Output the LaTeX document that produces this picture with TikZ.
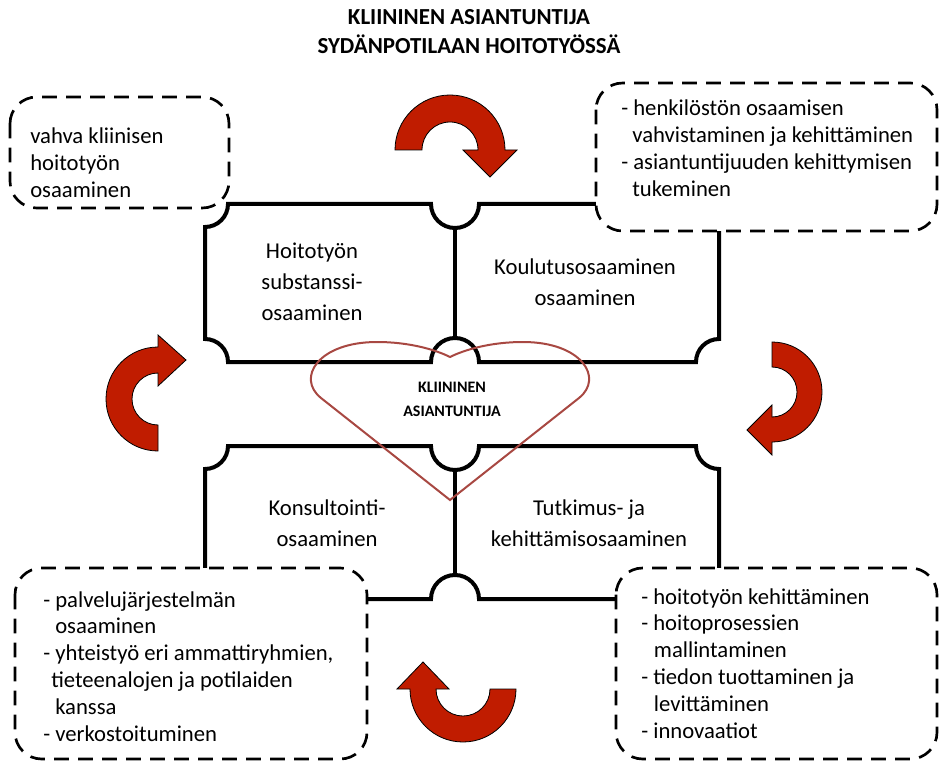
\documentclass[tikz,border=0pt]{standalone}
\usepackage{fontspec}
\setmainfont{Carlito}
\definecolor{arrowred}{RGB}{192,28,0}
\definecolor{heartline}{RGB}{168,72,66}
\newcommand\stack[2]{\begin{tabular}[t]{@{}#1@{}}#2\end{tabular}}
\begin{document}
\begin{tikzpicture}[x=0.75pt,y=-0.75pt,
  frame/.style={line width=3pt, line join=miter},
  note/.style={draw, line width=2pt, dash pattern=on 11pt off 7pt, rounded corners=20pt, fill=white},
  bendarrow/.style={fill=arrowred, draw=black, line width=0.6pt, line join=miter},
  heart/.style={draw=heartline, line width=1.5pt},
  body/.style={inner sep=0pt, anchor=base west, font=\fontsize{17}{20.1}\selectfont},
  field/.style={inner sep=0pt, anchor=base, font=\fontsize{17}{23.25}\selectfont},
  headline/.style={inner sep=0pt, anchor=base, font=\fontsize{17.2}{21.75}\selectfont\bfseries},
  core/.style={inner sep=0pt, anchor=base, font=\fontsize{12}{18}\selectfont\bfseries}]
\useasboundingbox (0,0) rectangle (939,763);

% upper pair of competence fields
\draw[frame] (228,204) -- (431,204) arc[start angle=180,end angle=0,radius=24]
  -- (696,204) arc[start angle=180,end angle=90,radius=23]
  -- (719,339) arc[start angle=-90,end angle=-180,radius=23]
  -- (479,362) arc[start angle=0,end angle=-180,radius=24]
  -- (228,362) arc[start angle=0,end angle=-90,radius=23]
  -- (205,227) arc[start angle=90,end angle=0,radius=23] -- cycle;
\draw[frame] (455,228) -- (455,338);

% lower pair of competence fields
\draw[frame] (228,446) -- (431,446) arc[start angle=180,end angle=0,radius=24]
  -- (696,446) arc[start angle=180,end angle=90,radius=23]
  -- (719,576) arc[start angle=-90,end angle=-180,radius=23]
  -- (479,599) arc[start angle=0,end angle=-180,radius=24]
  -- (228,599) arc[start angle=0,end angle=-90,radius=23]
  -- (205,469) arc[start angle=90,end angle=0,radius=23] -- cycle;
\draw[frame] (455,470) -- (455,575);

% dashed note boxes
\draw[note] (10,97) rectangle (229,208);
\draw[note] (596,83) rectangle (937,231);
\draw[note] (15,568) rectangle (367,759);
\draw[note] (616,568) rectangle (937,759);

% heart in the middle
\draw[heart] (450,500) -- (321,398)
  .. controls (296,378) and (318,342) .. (377,342)
  .. controls (410,342) and (436,350) .. (450,357)
  .. controls (464,350) and (490,342) .. (523,342)
  .. controls (582,342) and (604,378) .. (579,398) -- cycle;

% circular arrows
\draw[bendarrow] (395,150) arc[start angle=180,end angle=360,radius=55]
  -- (517,150) -- (490,177) -- (463,150) -- (478,150)
  arc[start angle=360,end angle=180,radius=28] -- cycle;
\draw[bendarrow] (772,342) arc[start angle=-90,end angle=90,radius=50]
  -- (772,455) -- (747,430) -- (772,405) -- (772,417)
  arc[start angle=90,end angle=-90,radius=25] -- cycle;
\draw[bendarrow] (158,451) arc[start angle=90,end angle=270,radius=52]
  -- (158,335) -- (186,360) -- (158,386) -- (158,373)
  arc[start angle=270,end angle=90,radius=26] -- cycle;
\draw[bendarrow] (516,689) arc[start angle=0,end angle=180,radius=53]
  -- (397,689) -- (423,662) -- (449,689) -- (436,689)
  arc[start angle=180,end angle=0,radius=27] -- cycle;

% texts
\node[headline] (title) at (469,25) {\stack{c}{KLIININEN ASIANTUNTIJA\\SYDÄNPOTILAAN HOITOTYÖSSÄ}};
\node[core] (centre) at (452,392) {\stack{c}{KLIININEN\\ASIANTUNTIJA}};

\node[field] (subst) at (312,258) {\stack{c}{Hoitotyön\\substanssi-\\osaaminen}};
\node[field] (koul) at (585,274) {\stack{c}{Koulutusosaaminen\\osaaminen}};
\node[field] (kons) at (327,515) {\stack{c}{Konsultointi-\\osaaminen}};
\node[field] (tutk) at (589,515) {\stack{c}{Tutkimus- ja\\kehittämisosaaminen}};

\node[body] (clin) at (30,144) {\stack{l}{vahva kliinisen\\hoitotyön\\osaaminen}};
\node[body] (staff) at (621,116) {\stack{l}{- henkilöstön osaamisen\\\hspace*{8.3pt}vahvistaminen ja kehittäminen\\- asiantuntijuuden kehittymisen\\\hspace*{8.3pt}tukeminen}};
\node[body] (serv) at (43,607) {\stack{l}{- palvelujärjestelmän\\\hspace*{9pt}osaaminen\\- yhteistyö eri ammattiryhmien,\\\hspace*{6pt}tieteenalojen ja potilaiden\\\hspace*{9pt}kanssa\\- verkostoituminen}};
\node[body] (dev) at (641,604) {\stack{l}{- hoitotyön kehittäminen\\- hoitoprosessien\\\hspace*{9.5pt}mallintaminen\\- tiedon tuottaminen ja\\\hspace*{9.5pt}levittäminen\\- innovaatiot}};
\end{tikzpicture}
\end{document}
